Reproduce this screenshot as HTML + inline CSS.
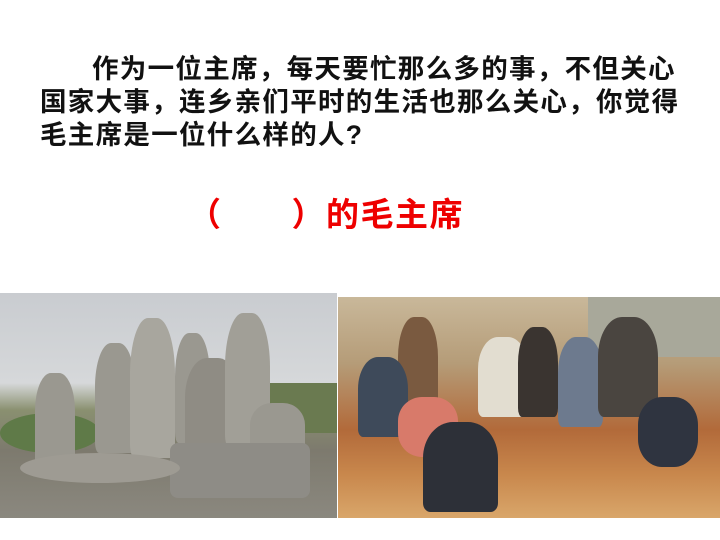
<!DOCTYPE html>
<html><head><meta charset="utf-8"><style>
body{margin:0;width:720px;height:540px;background:#fff;position:relative;overflow:hidden;font-family:"Liberation Sans","Noto Sans CJK SC",sans-serif}
.t{position:absolute;font-size:26.5px;line-height:30px;font-weight:bold;color:#111;white-space:nowrap;letter-spacing:1.3px}
.r{position:absolute;left:188px;top:196px;font-size:33px;line-height:38px;font-weight:bold;color:#e00;white-space:nowrap;letter-spacing:1.5px}
.ph{position:absolute;overflow:hidden}
.s{position:absolute;background:#9a9890;border-radius:40% 40% 10% 10%}
</style></head><body>
<div class="t" style="left:92px;top:54px">作为一位主席，每天要忙那么多的事，不但关心</div>
<div class="t" style="left:40px;top:87px">国家大事，连乡亲们平时的生活也那么关心，你觉得</div>
<div class="t" style="left:40px;top:120px">毛主席是一位什么样的人?</div>
<div class="r">（　　）的毛主席</div>

<div class="ph" style="left:0;top:293px;width:337px;height:225px;background:linear-gradient(#c9ccd0 0%,#d6d8da 40%,#8a9070 52%,#7d7a6e 70%,#8b887f 100%)">
<div style="position:absolute;left:0;top:120px;width:100px;height:40px;background:#5f7a48;border-radius:50%"></div>
<div style="position:absolute;left:270px;top:90px;width:70px;height:50px;background:#6a7a50"></div>
<div class="s" style="left:35px;top:80px;width:40px;height:95px"></div>
<div class="s" style="left:95px;top:50px;width:40px;height:110px"></div>
<div class="s" style="left:130px;top:25px;width:45px;height:140px;background:#a8a69e"></div>
<div class="s" style="left:175px;top:40px;width:35px;height:110px"></div>
<div class="s" style="left:185px;top:65px;width:55px;height:100px;background:#8f8c84"></div>
<div class="s" style="left:225px;top:20px;width:45px;height:135px;background:#a19f97"></div>
<div class="s" style="left:250px;top:110px;width:55px;height:55px"></div>
<div style="position:absolute;left:170px;top:150px;width:140px;height:55px;background:#8e8c86;border-radius:8px"></div>
<div style="position:absolute;left:20px;top:160px;width:160px;height:30px;background:#9e9b93;border-radius:50%"></div>
</div>

<div class="ph" style="left:338px;top:297px;width:382px;height:221px;background:linear-gradient(#c9b89a 0%,#b59c78 30%,#b26a3a 60%,#c8874c 80%,#d9a66a 100%)">
<div style="position:absolute;left:250px;top:0;width:132px;height:60px;background:#a8a89a"></div>
<div style="position:absolute;left:60px;top:20px;width:40px;height:100px;background:#7a5a40;border-radius:40% 40% 10% 10%"></div>
<div style="position:absolute;left:20px;top:60px;width:50px;height:80px;background:#3e4a5a;border-radius:40% 40% 10% 10%"></div>
<div style="position:absolute;left:60px;top:100px;width:60px;height:60px;background:#d87a6a;border-radius:40%"></div>
<div style="position:absolute;left:85px;top:125px;width:75px;height:90px;background:#2d3038;border-radius:40% 40% 10% 10%"></div>
<div style="position:absolute;left:140px;top:40px;width:50px;height:80px;background:#e2ddd0;border-radius:40% 40% 10% 10%"></div>
<div style="position:absolute;left:180px;top:30px;width:40px;height:90px;background:#3a3430;border-radius:40% 40% 10% 10%"></div>
<div style="position:absolute;left:220px;top:40px;width:45px;height:90px;background:#6d7a8e;border-radius:40% 40% 10% 10%"></div>
<div style="position:absolute;left:260px;top:20px;width:60px;height:100px;background:#4a4540;border-radius:40% 40% 10% 10%"></div>
<div style="position:absolute;left:300px;top:100px;width:60px;height:70px;background:#2f3440;border-radius:40%"></div>
</div>
</body></html>
